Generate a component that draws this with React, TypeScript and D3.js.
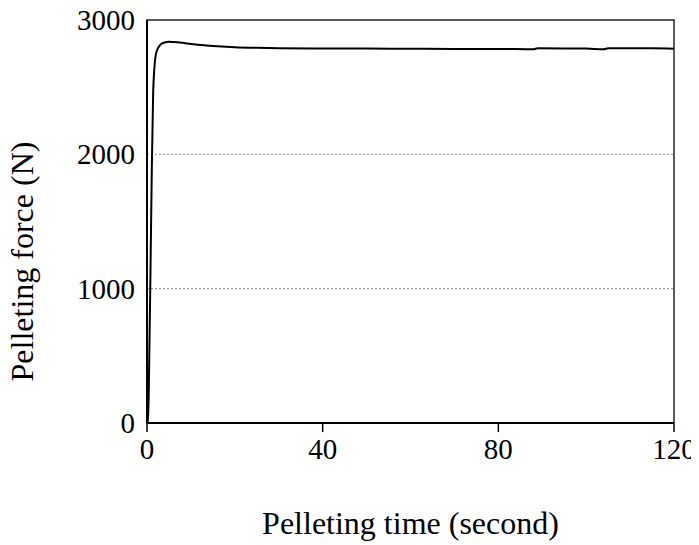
import React from "react"
import * as d3 from "d3"

// Pelleting force over time
const timeSec = [0, 0.25, 0.5, 0.8, 1.1, 1.4, 1.7, 2, 2.5, 3, 4, 5, 6, 8, 10, 13, 16, 20, 25, 30, 40, 50, 60, 70, 80, 88, 89, 95, 100, 104, 105, 110, 115, 120]
const forceN = [0, 0, 450, 1150, 1900, 2450, 2650, 2740, 2790, 2815, 2832, 2838, 2836, 2830, 2822, 2812, 2805, 2798, 2793, 2790, 2788, 2787, 2786, 2785, 2785, 2782, 2789, 2788, 2787, 2783, 2790, 2790, 2789, 2786]
const xTicks = [0, 40, 80, 120]
const yTicks = [0, 1000, 2000, 3000]
const gridLines = [1000, 2000]

const FONT = "Times New Roman"

export default function App() {
  const W = 699
  const H = 545
  const margin = { top: 20, right: 25, bottom: 122, left: 147 }
  const w = W - margin.left - margin.right
  const h = H - margin.top - margin.bottom

  const x = d3.scaleLinear().domain([0, 120]).range([0, w])
  const y = d3.scaleLinear().domain([0, 3000]).range([h, 0])

  const line = d3.line<number>()
    .x((d, i) => x(timeSec[i]))
    .y(d => y(d))
    .curve(d3.curveMonotoneX)

  return (
    <svg width={W} height={H} style={{ display: "block", marginTop: -8, marginLeft: -8 }}>
      <g transform={`translate(${margin.left},${margin.top})`}>
        {gridLines.map(d => (
          <line key={d} x1={0} x2={w} y1={y(d)} y2={y(d)} stroke="#8c8c8c" strokeWidth={1} strokeDasharray="2,2" />
        ))}

        <rect x={0} y={0} width={w} height={h} fill="none" stroke="#000" strokeWidth={1.3} />

        <path d={line(forceN) || ""} fill="none" stroke="#000" strokeWidth={2} />

        <line x1={0} x2={w} y1={h} y2={h} stroke="#000" strokeWidth={2} />
        <line x1={0} x2={0} y1={0} y2={h} stroke="#000" strokeWidth={2} />

        {xTicks.map(d => (
          <g key={d} transform={`translate(${x(d)},${h})`}>
            <line y1={0} y2={9} stroke="#000" strokeWidth={1.5} />
            <text y={36} textAnchor="middle" style={{ fontFamily: FONT, fontSize: 29 }}>{d}</text>
          </g>
        ))}

        {yTicks.map(d => (
          <text key={d} x={-12} y={y(d)} dy="0.34em" textAnchor="end" style={{ fontFamily: FONT, fontSize: 29 }}>{d}</text>
        ))}
      </g>

      <text x={margin.left + w / 2} y={534} textAnchor="middle" style={{ fontFamily: FONT, fontSize: 32 }}>
        Pelleting time (second)
      </text>
      <text transform={`translate(33,${margin.top + h / 2 + 40}) rotate(-90)`} textAnchor="middle" style={{ fontFamily: FONT, fontSize: 32 }}>
        Pelleting force (N)
      </text>
    </svg>
  )
}
